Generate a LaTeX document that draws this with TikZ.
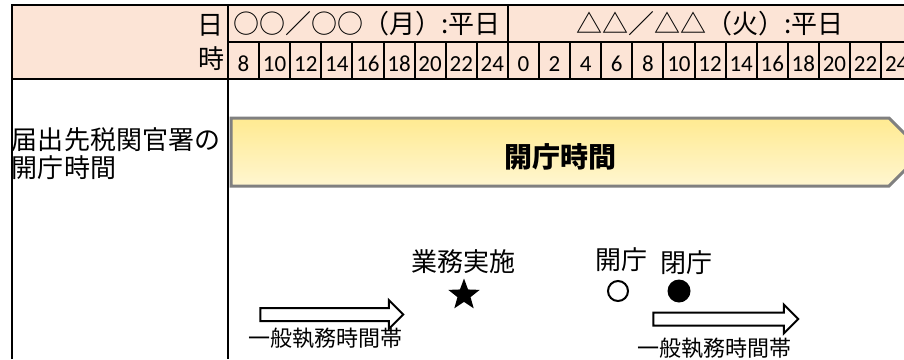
\documentclass[tikz,border=0pt]{standalone}
\usepackage{fontspec}
\setmainfont{Noto Sans CJK JP}
\newfontfamily\numfont{Carlito}
\usetikzlibrary{shapes.arrows,shapes.symbols,shapes.geometric}
\definecolor{headfill}{RGB}{252,228,214}
\definecolor{barline}{RGB}{128,128,128}
\definecolor{bartop}{RGB}{255,234,145}
\definecolor{barbottom}{RGB}{255,246,208}

\begin{document}
\begin{tikzpicture}[x=1pt, y=-1pt, line width=2pt,
    hour/.style={inner sep=0, font=\numfont\fontsize{23}{23}\selectfont},
    daytext/.style={inner sep=0, font=\fontsize{26}{26}\selectfont},
    jtext/.style={inner sep=0, font=\fontsize{26}{28}\selectfont},
    smalltext/.style={inner sep=0, font=\fontsize{22}{22}\selectfont},
    blockarrow/.style={single arrow, draw, inner xsep=0, inner ysep=5.5,
        single arrow head extend=8, single arrow tip angle=90}]
    \useasboundingbox (0,0) rectangle (904,359);

    % Draw header
    \fill[headfill] (12,5) rectangle (912,79);
    \draw (12,359) -- (12,5) -- (912,5);
    \draw (228,42) -- (912,42);
    \draw (12,79) -- (912,79);
    \draw (228,5) -- (228,359);
    \draw (507.9,5) -- (507.9,79);
    \foreach \i in {1,...,8}
        \draw ({228+31.1*\i},42) -- ({228+31.1*\i},79);
    \foreach \i in {1,...,12}
        \draw ({507.9+31.1*\i},42) -- ({507.9+31.1*\i},79);

    \node[daytext, anchor=east] (hi) at (224,25) {日};
    \node[daytext, anchor=east] (ji) at (225,58.5) {時};
    \node[daytext] (day1) at (367,24) {○○／○○（月）:平日};
    \node[daytext] (day2) at (710,24) {△△／△△（火）:平日};

    % Draw hours
    \foreach \h [count=\i from 0] in {8,10,...,24}
        \node[hour] (a\h) at ({243.55+31.1*\i},64) {\h};
    \foreach \h [count=\i from 0] in {0,2,...,24}
        \node[hour] (b\h) at ({523.45+31.1*\i},64) {\h};

    % Draw opening hours bar
    \node[jtext, anchor=west, align=left] (office) at (11,154) {届出先税関官署の\\開庁時間};
    \node[signal, signal to=east, draw=barline, line width=3pt, minimum width=692,
        minimum height=68, top color=bartop, bottom color=barbottom] (bar) at (560,152) {};
    \node[inner sep=0, font=\bfseries\fontsize{28}{28}\selectfont] (bartext) at (560,157) {開庁時間};

    % Draw marks
    \node[jtext] (work) at (463,262) {業務実施};
    \node[star, star points=5, star point ratio=2.4, fill, minimum size=33, inner sep=0] (star) at (464,295) {};
    \node[jtext] (open) at (621,260) {開庁};
    \node[jtext] (close) at (686,263) {閉庁};
    \node[circle, draw, minimum size=20, inner sep=0] (opendot) at (618,291) {};
    \node[circle, fill, minimum size=23, inner sep=0] (closedot) at (679,291) {};

    % Draw general hours arrows
    \node[blockarrow, minimum height=143] (gen1) at (328.5,314.5) {};
    \node[smalltext] (gen1text) at (325,338) {一般執務時間帯};
    \node[blockarrow, minimum height=145] (gen2) at (722.5,319) {};
    \node[smalltext] (gen2text) at (714,348) {一般執務時間帯};
\end{tikzpicture}
\end{document}
